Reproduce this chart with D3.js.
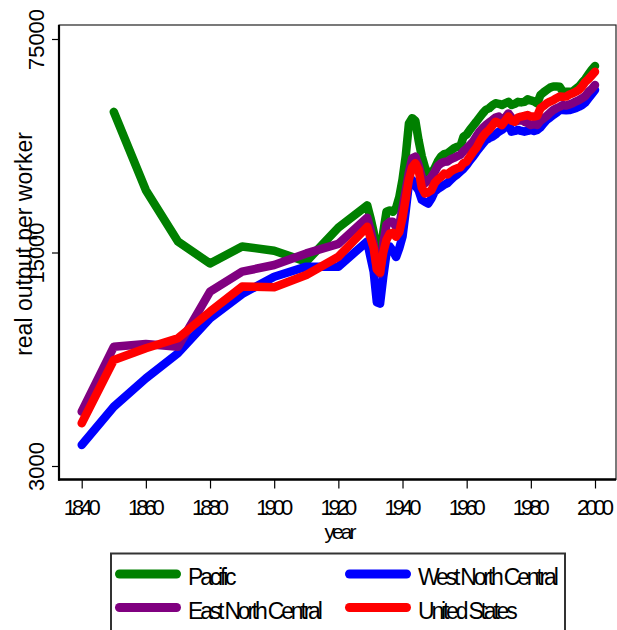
<!DOCTYPE html>
<html>
<head>
<meta charset="utf-8">
<script src="https://cdn.jsdelivr.net/npm/d3@7"></script>
<style>
  html, body { margin: 0; padding: 0; background: #fff; }
  svg { display: block; }
  text { font-family: "Liberation Sans", Arial, Helvetica, sans-serif; fill: #000; }
</style>
</head>
<body>
<svg id="chart" width="617" height="630"></svg>
<script>
const years = [1840,1850,1860,1870,1880,1890,1900,1910,1920,
  1929,1930,1931,1932,1933,1934,1935,1936,1937,1938,1939,
  1940,1941,1942,1943,1944,1945,1946,1947,1948,1949,
  1950,1951,1952,1953,1954,1955,1956,1957,1958,1959,
  1960,1961,1962,1963,1964,1965,1966,1967,1968,1969,
  1970,1971,1972,1973,1974,1975,1976,1977,1978,1979,
  1980,1981,1982,1983,1984,1985,1986,1987,1988,1989,
  1990,1991,1992,1993,1994,1995,1996,1997,1998,1999,2000];

const pacific = [null,43300,24000,16300,13800,15700,15200,14000,18100,
  21400,19500,17500,15200,14900,17500,20400,20600,20400,21000,22800,
  26000,31000,39700,41300,40500,35000,31000,28500,26900,27300,
  28300,29800,30900,31500,31700,32300,32900,33300,33300,35900,
  36500,37800,39000,40200,41500,42800,44000,44500,45500,46200,
  46000,45600,46200,46700,45600,46000,46700,46500,46700,47600,
  47200,46900,46200,49200,50200,51100,52000,52400,52400,52300,
  50400,50400,50400,50400,51500,52400,54000,55500,57500,59500,61200];

const westNorthCentral = [3515,4690,5810,7020,9130,10970,12500,13480,13480,
  16300,14500,13000,10300,10200,12500,14900,15700,15200,14500,15500,
  16900,20500,25300,25900,24800,24000,22300,22000,21700,22500,
  23700,24200,24600,25000,25300,25900,26500,27000,27600,28200,
  29000,30000,30900,32000,33000,34000,35000,35500,35900,36500,
  37300,37800,38500,39700,37300,37500,37800,37500,37300,37500,
  37800,37500,37800,38500,39700,40800,41500,42300,43000,43900,
  43900,43800,43900,44200,44500,45000,45600,46500,48000,49500,51100];

const eastNorthCentral = [4520,7370,7520,7370,11160,12980,13650,14900,16000,
  19500,17800,16000,13200,12800,16000,18500,18900,18900,18200,18500,
  21000,24000,27500,30500,30900,29000,26500,25300,25800,26500,
  27500,28800,29400,29700,29800,30300,30600,31000,31300,32200,
  32900,33700,34600,36000,37300,38300,39200,40000,40700,41500,
  41800,40700,41500,42800,41500,40200,40500,40800,40200,39800,
  39200,39500,39200,40500,41250,42000,43000,43900,44500,45000,
  45600,45400,45800,46200,46800,47300,48000,48800,50400,51500,53000];

const unitedStates = [4140,6670,7290,7860,9600,11600,11550,12660,14530,
  18200,16800,15500,13200,12900,15000,16500,17300,17400,16900,17500,
  19500,22500,26000,28500,29400,28000,24500,23400,23600,24000,
  25300,26000,26500,27200,27000,27600,28000,28300,28500,29400,
  29800,30900,32000,33000,34500,35900,37000,37800,39000,40200,
  39800,39200,40500,41800,40500,40200,41500,41800,42000,42300,
  41800,41800,42000,44500,45300,46200,46800,47300,48000,48600,
  48500,48600,49300,49800,50400,51100,52500,54300,55500,57000,58600];

const xTicks = [1840,1860,1880,1900,1920,1940,1960,1980,2000];
const yTicks = [3000,15000,75000];

// draw order (Stata order): Pacific, WNC, ENC, US
const series = [
  {name: "Pacific", values: pacific, color: "#008000"},
  {name: "West North Central", values: westNorthCentral, color: "#0000ff"},
  {name: "East North Central", values: eastNorthCentral, color: "#800080"},
  {name: "United States", values: unitedStates, color: "#ff0000"}
];

const svg = d3.select("#chart");
const frame = {left: 59, right: 616, top: 25, bottom: 479.5};

const x = d3.scaleLinear().domain([1840, 2000]).range([81.7, 595]);
const y = d3.scaleLog().domain([3000, 75000]).range([466, 39]);

// plot frame
svg.append("rect")
  .attr("x", frame.left).attr("y", frame.top)
  .attr("width", frame.right - frame.left).attr("height", frame.bottom - frame.top)
  .attr("fill", "none").attr("stroke", "#222").attr("stroke-width", 1.2);

// lines
const line = d3.line()
  .defined(d => d.v != null)
  .x(d => x(d.year))
  .y(d => y(d.v));

series.forEach(s => {
  const pts = years.map((yr, i) => ({year: yr, v: s.values[i]}));
  svg.append("path")
    .datum(pts)
    .attr("d", line)
    .attr("fill", "none")
    .attr("stroke", s.color)
    .attr("stroke-width", 8.5)
    .attr("stroke-linejoin", "round")
    .attr("stroke-linecap", "round");
});

// y axis
const yAxis = svg.append("g")
  .attr("transform", `translate(${frame.left},0)`)
  .call(d3.axisLeft(y).tickValues(yTicks).tickFormat(d3.format("d")).tickSize(7).tickSizeOuter(0));
yAxis.select(".domain").remove();
yAxis.selectAll(".tick line").attr("stroke", "#000").attr("stroke-width", 1.2);
yAxis.selectAll(".tick text").remove();
yAxis.selectAll(".tick").append("text")
  .attr("transform", "translate(-15,0) rotate(-90)")
  .attr("text-anchor", "middle")
  .attr("font-size", 22)
  .attr("dy", 0)
  .text(d => d3.format("d")(d));

// x axis
const xAxis = svg.append("g")
  .attr("transform", `translate(0,${frame.bottom})`)
  .call(d3.axisBottom(x).tickValues(xTicks).tickFormat(d3.format("d")).tickSize(9).tickSizeOuter(0));
xAxis.select(".domain").remove();
xAxis.selectAll(".tick line").attr("stroke", "#000").attr("stroke-width", 1.2);
xAxis.selectAll(".tick text")
  .attr("y", 35.5).attr("dy", 0)
  .attr("font-size", 22)
  .attr("letter-spacing", "-4px")
  .attr("dx", "-2px")
  .attr("fill", "#000")
  .style("font-family", '"Liberation Sans", Arial, sans-serif');

// axis lines
svg.append("line").attr("x1", frame.left).attr("x2", frame.left)
  .attr("y1", frame.top).attr("y2", frame.bottom + 1)
  .attr("stroke", "#000").attr("stroke-width", 2.2);
svg.append("line").attr("x1", frame.left - 1).attr("x2", frame.right)
  .attr("y1", frame.bottom).attr("y2", frame.bottom)
  .attr("stroke", "#000").attr("stroke-width", 2.5);

// axis titles
svg.append("text")
  .attr("transform", "translate(32,244) rotate(-90)")
  .attr("text-anchor", "middle")
  .attr("font-size", 23)
  .text("real output per worker");

svg.append("text")
  .attr("x", 339).attr("y", 539)
  .attr("text-anchor", "middle")
  .attr("font-size", 21)
  .attr("letter-spacing", "-3px")
  .text("year");

// legend
const legend = svg.append("g");
legend.append("rect")
  .attr("x", 111).attr("y", 553.5)
  .attr("width", 454).attr("height", 110)
  .attr("fill", "#fff").attr("stroke", "#333").attr("stroke-width", 2);

const legendItems = [
  {s: series[0], col: 0, row: 0},
  {s: series[1], col: 1, row: 0},
  {s: series[2], col: 0, row: 1},
  {s: series[3], col: 1, row: 1}
];
const colX = [115, 345];
const rowY = [574, 607.5];
legendItems.forEach(it => {
  const x0 = colX[it.col], y0 = rowY[it.row];
  legend.append("line")
    .attr("x1", x0 + 4.5).attr("x2", x0 + 61.5)
    .attr("y1", y0).attr("y2", y0)
    .attr("stroke", it.s.color).attr("stroke-width", 9)
    .attr("stroke-linecap", "round");
  legend.append("text")
    .attr("x", x0 + 73).attr("y", y0 + 11)
    .attr("font-size", 23)
    .attr("letter-spacing", "-3.2px")
    .text(it.s.name);
});
</script>
</body>
</html>
